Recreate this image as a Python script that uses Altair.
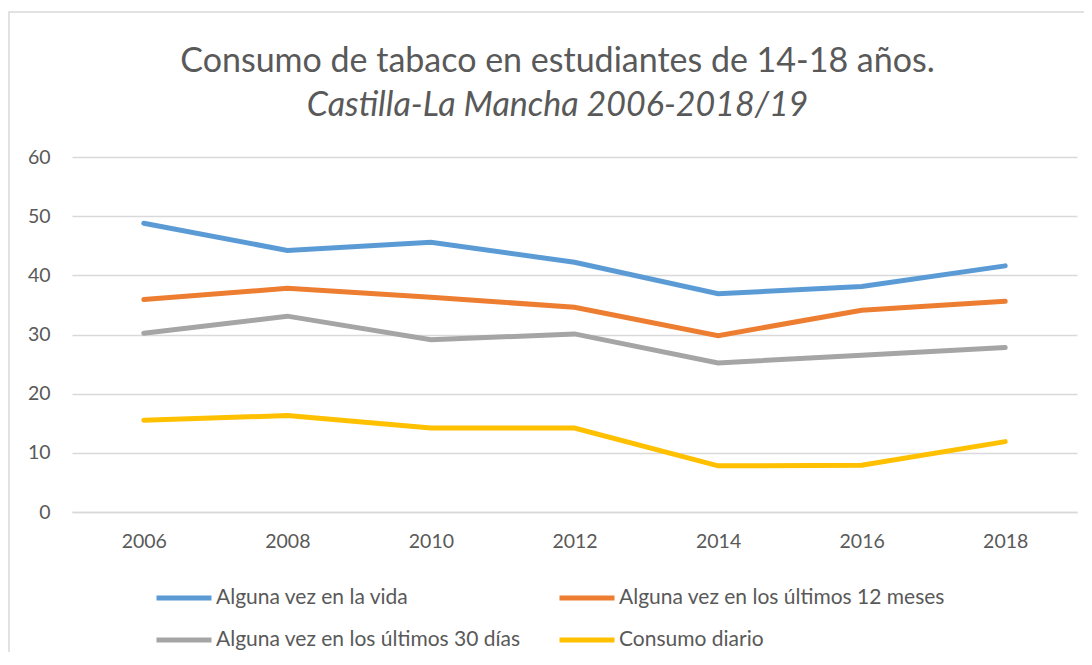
import altair as alt
import pandas as pd

years = ["2006", "2008", "2010", "2012", "2014", "2016", "2018"]
series = [
    "Alguna vez en la vida",
    "Alguna vez en los últimos 12 meses",
    "Alguna vez en los últimos 30 días",
    "Consumo diario",
]
vida = [48.8, 44.2, 45.6, 42.2, 36.9, 38.1, 41.6]
meses12 = [35.9, 37.8, 36.3, 34.6, 29.8, 34.1, 35.6]
dias30 = [30.2, 33.1, 29.1, 30.1, 25.2, 26.5, 27.8]
diario = [15.5, 16.3, 14.2, 14.2, 7.8, 7.9, 11.9]
colors = ["#5B9BD5", "#ED7D31", "#A5A5A5", "#FFC000"]

rows = []
for name, vals in zip(series, [vida, meses12, dias30, diario]):
    for y, v in zip(years, vals):
        rows.append({"year": y, "value": v, "serie": name})
df = pd.DataFrame(rows)

FONT = "Lato"
GREY = "#595959"

lines = alt.Chart(df).mark_line(strokeWidth=5, strokeCap="round", strokeJoin="miter").encode(
    x=alt.X("year:O", scale=alt.Scale(padding=0.5), sort=years,
            axis=alt.Axis(title=None, labelAngle=0, ticks=False, domainColor="#D9D9D9",
                          domainWidth=1.5, labelPadding=20, labelFontSize=19.5,
                          labelColor=GREY, labelFont=FONT)),
    y=alt.Y("value:Q", scale=alt.Scale(domain=[0, 60], nice=False),
            axis=alt.Axis(title=None, values=[0, 10, 20, 30, 40, 50, 60], ticks=False,
                          domain=False, gridColor="#D9D9D9", gridWidth=1.5,
                          labelPadding=22, labelFontSize=19.5, labelColor=GREY, labelFont=FONT)),
    color=alt.Color("serie:N", scale=alt.Scale(domain=series, range=colors),
                    legend=alt.Legend(title=None, orient="none", legendX=82, legendY=411,
                                      columns=2, direction="horizontal",
                                      symbolType="stroke", symbolSize=3025,
                                      symbolStrokeWidth=5, labelFontSize=21, labelColor=GREY,
                                      labelFont=FONT, labelOffset=2, columnPadding=28,
                                      rowPadding=2, labelLimit=500)),
    order=alt.Order("year:O"),
)

frame = alt.Chart(alt.Data(values=[{}])).mark_rect(fill=None, stroke="#D9D9D9", strokeWidth=1.5).encode(
    x=alt.value(-63), x2=alt.value(1100), y=alt.value(-145), y2=alt.value(700)
)

chart = alt.layer(frame, lines).properties(
    width=1005,
    height=355,
    autosize=alt.AutoSizeParams(type="none"),
    padding={"left": 64, "top": 149, "right": 7, "bottom": 140},
    title=alt.TitleParams(
        text="Consumo de tabaco en estudiantes de 14-18 años.",
        subtitle="Castilla-La Mancha 2006-2018/19",
        subtitleFontStyle="italic",
        font=FONT, subtitleFont=FONT,
        fontSize=34, subtitleFontSize=34, fontWeight="normal",
        color=GREY, subtitleColor=GREY,
        anchor="middle", frame="group", dx=-17, offset=-112, subtitlePadding=10,
    ),
).configure_view(stroke=None)

chart.save("out.html", embed_options={"renderer": "svg", "actions": False})
